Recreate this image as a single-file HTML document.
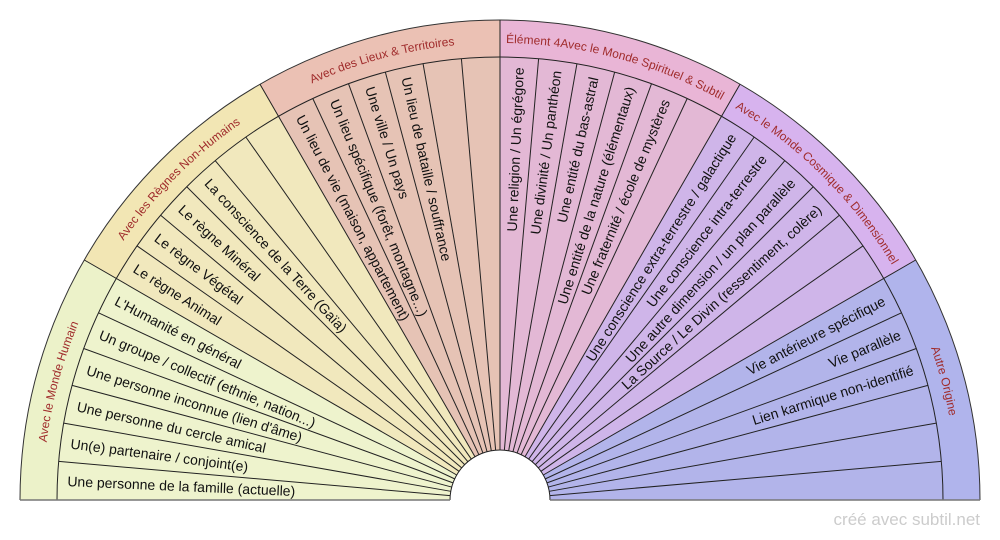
<!DOCTYPE html>
<html><head><meta charset="utf-8"><style>
html,body{margin:0;padding:0;background:#fff;width:1000px;height:540px;overflow:hidden}
svg{display:block;font-family:"Liberation Sans",sans-serif}
.t{font-size:14px;fill:#111;dominant-baseline:central}
.c{font-size:12px;fill:#a02c2c}
</style></head><body>
<svg width="1000" height="540" viewBox="0 0 1000 540" xmlns="http://www.w3.org/2000/svg">
<defs>
<path id="p1" d="M43,500 A457,457 0 0 1 104.2,271.5"/>
<path id="p2" d="M104.2,271.5 A457,457 0 0 1 271.5,104.2"/>
<path id="p3" d="M271.5,104.2 A457,457 0 0 1 500,43"/>
<path id="p4" d="M500,43 A457,457 0 0 1 728.5,104.2"/>
<path id="p5" d="M728.5,104.2 A457,457 0 0 1 895.8,271.5"/>
<path id="p6" d="M895.8,271.5 A457,457 0 0 1 957,500"/>
</defs>
<path d="M450,500 L20,500 A480,480 0 0 1 84.31,260 L456.7,475 A50,50 0 0 0 450,500Z" fill="#ecf2c9"/>
<path d="M456.7,475 L84.31,260 A480,480 0 0 1 260,84.31 L475,456.7 A50,50 0 0 0 456.7,475Z" fill="#f2e6b4"/>
<path d="M475,456.7 L260,84.31 A480,480 0 0 1 500,20 L500,450 A50,50 0 0 0 475,456.7Z" fill="#ebc1b4"/>
<path d="M500,450 L500,20 A480,480 0 0 1 740,84.31 L525,456.7 A50,50 0 0 0 500,450Z" fill="#e9b5d6"/>
<path d="M525,456.7 L740,84.31 A480,480 0 0 1 915.69,260 L543.3,475 A50,50 0 0 0 525,456.7Z" fill="#d7b3ee"/>
<path d="M543.3,475 L915.69,260 A480,480 0 0 1 980,500 L550,500 A50,50 0 0 0 543.3,475Z" fill="#b0b4ec"/>
<path d="M450,500 L57,500 A443,443 0 0 1 116.35,278.5 L456.7,475 A50,50 0 0 0 450,500Z" fill="#eef3cd"/>
<path d="M456.7,475 L116.35,278.5 A443,443 0 0 1 278.5,116.35 L475,456.7 A50,50 0 0 0 456.7,475Z" fill="#f1e8bd"/>
<path d="M475,456.7 L278.5,116.35 A443,443 0 0 1 500,57 L500,450 A50,50 0 0 0 475,456.7Z" fill="#e6c3b5"/>
<path d="M500,450 L500,57 A443,443 0 0 1 721.5,116.35 L525,456.7 A50,50 0 0 0 500,450Z" fill="#e3b8d5"/>
<path d="M525,456.7 L721.5,116.35 A443,443 0 0 1 883.65,278.5 L543.3,475 A50,50 0 0 0 525,456.7Z" fill="#cfb5e9"/>
<path d="M543.3,475 L883.65,278.5 A443,443 0 0 1 943,500 L550,500 A50,50 0 0 0 543.3,475Z" fill="#b2b4ea"/>
<path d="M20,500 A480,480 0 0 1 980,500" fill="none" stroke="#333" stroke-width="1"/>
<path d="M57,500 A443,443 0 0 1 943,500" fill="none" stroke="#222" stroke-width="1"/>
<path d="M450,500 A50,50 0 0 1 550,500" fill="none" stroke="#222" stroke-width="1"/>
<line x1="20" y1="500" x2="450" y2="500" stroke="#777" stroke-width="1.5"/>
<line x1="550" y1="500" x2="980" y2="500" stroke="#777" stroke-width="1.5"/>
<g transform="translate(500,500)" stroke="#222" stroke-width="1">
<line x1="50" x2="443" transform="rotate(-5)"/><line x1="50" x2="443" transform="rotate(-10)"/><line x1="50" x2="443" transform="rotate(-15)"/><line x1="50" x2="443" transform="rotate(-20)"/><line x1="50" x2="443" transform="rotate(-25)"/>
<line x1="50" x2="480" transform="rotate(-30)"/>
<line x1="50" x2="443" transform="rotate(-35)"/><line x1="50" x2="443" transform="rotate(-40)"/><line x1="50" x2="443" transform="rotate(-45)"/><line x1="50" x2="443" transform="rotate(-50)"/><line x1="50" x2="443" transform="rotate(-55)"/>
<line x1="50" x2="480" transform="rotate(-60)"/>
<line x1="50" x2="443" transform="rotate(-65)"/><line x1="50" x2="443" transform="rotate(-70)"/><line x1="50" x2="443" transform="rotate(-75)"/><line x1="50" x2="443" transform="rotate(-80)"/><line x1="50" x2="443" transform="rotate(-85)"/>
<line x1="50" x2="480" transform="rotate(-90)"/>
<line x1="50" x2="443" transform="rotate(-95)"/><line x1="50" x2="443" transform="rotate(-100)"/><line x1="50" x2="443" transform="rotate(-105)"/><line x1="50" x2="443" transform="rotate(-110)"/><line x1="50" x2="443" transform="rotate(-115)"/>
<line x1="50" x2="480" transform="rotate(-120)"/>
<line x1="50" x2="443" transform="rotate(-125)"/><line x1="50" x2="443" transform="rotate(-130)"/><line x1="50" x2="443" transform="rotate(-135)"/><line x1="50" x2="443" transform="rotate(-140)"/><line x1="50" x2="443" transform="rotate(-145)"/>
<line x1="50" x2="480" transform="rotate(-150)"/>
<line x1="50" x2="443" transform="rotate(-155)"/><line x1="50" x2="443" transform="rotate(-160)"/><line x1="50" x2="443" transform="rotate(-165)"/><line x1="50" x2="443" transform="rotate(-170)"/><line x1="50" x2="443" transform="rotate(-175)"/>
</g>
<text class="c" text-anchor="middle"><textPath href="#p1" startOffset="50%">Avec le Monde Humain</textPath></text>
<text class="c" text-anchor="middle"><textPath href="#p2" startOffset="50%">Avec les Règnes Non-Humains</textPath></text>
<text class="c" text-anchor="middle"><textPath href="#p3" startOffset="50%">Avec des Lieux &amp; Territoires</textPath></text>
<text class="c"><textPath href="#p4" startOffset="6">Élément 4Avec le Monde Spirituel &amp; Subtil</textPath></text>
<text class="c" text-anchor="middle"><textPath href="#p5" startOffset="50%">Avec le Monde Cosmique &amp; Dimensionnel</textPath></text>
<text class="c" text-anchor="middle"><textPath href="#p6" startOffset="50%">Autre Origine</textPath></text>
<g transform="translate(500,500)">
<text class="t" x="-433" transform="rotate(2.5)">Une personne de la famille (actuelle)</text>
<text class="t" x="-433" transform="rotate(7.5)">Un(e) partenaire / conjoint(e)</text>
<text class="t" x="-433" transform="rotate(12.5)">Une personne du cercle amical</text>
<text class="t" x="-433" transform="rotate(17.5)">Une personne inconnue (lien d'âme)</text>
<text class="t" x="-433" transform="rotate(22.5)">Un groupe / collectif (ethnie, nation...)</text>
<text class="t" x="-433" transform="rotate(27.5)">L'Humanité en général</text>
<text class="t" x="-433" transform="rotate(32.5)">Le règne Animal</text>
<text class="t" x="-433" transform="rotate(37.5)">Le règne Végétal</text>
<text class="t" x="-433" transform="rotate(42.5)">Le règne Minéral</text>
<text class="t" x="-433" transform="rotate(47.5)">La conscience de la Terre (Gaïa)</text>
<text class="t" x="-433" transform="rotate(62.5)">Un lieu de vie (maison, appartement)</text>
<text class="t" x="-433" transform="rotate(67.5)">Un lieu spécifique (forêt, montagne...)</text>
<text class="t" x="-433" transform="rotate(72.5)">Une ville / Un pays</text>
<text class="t" x="-433" transform="rotate(77.5)">Un lieu de bataille / souffrance</text>
<text class="t" x="433" text-anchor="end" transform="rotate(-87.5)">Une religion / Un égrégore</text>
<text class="t" x="433" text-anchor="end" transform="rotate(-82.5)">Une divinité / Un panthéon</text>
<text class="t" x="433" text-anchor="end" transform="rotate(-77.5)">Une entité du bas-astral</text>
<text class="t" x="433" text-anchor="end" transform="rotate(-72.5)">Une entité de la nature (élémentaux)</text>
<text class="t" x="433" text-anchor="end" transform="rotate(-67.5)">Une fraternité / école de mystères</text>
<text class="t" x="433" text-anchor="end" transform="rotate(-57.5)">Une conscience extra-terrestre / galactique</text>
<text class="t" x="433" text-anchor="end" transform="rotate(-52.5)">Une conscience intra-terrestre</text>
<text class="t" x="433" text-anchor="end" transform="rotate(-47.5)">Une autre dimension / un plan parallèle</text>
<text class="t" x="433" text-anchor="end" transform="rotate(-42.5)">La Source / Le Divin (ressentiment, colère)</text>
<text class="t" x="433" text-anchor="end" transform="rotate(-27.5)">Vie antérieure spécifique</text>
<text class="t" x="433" text-anchor="end" transform="rotate(-22.5)">Vie parallèle</text>
<text class="t" x="433" text-anchor="end" transform="rotate(-17.5)">Lien karmique non-identifié</text>
</g>
<text x="980" y="525" text-anchor="end" font-size="17" fill="#cccccc">créé avec subtil.net</text>
</svg>
</body></html>
